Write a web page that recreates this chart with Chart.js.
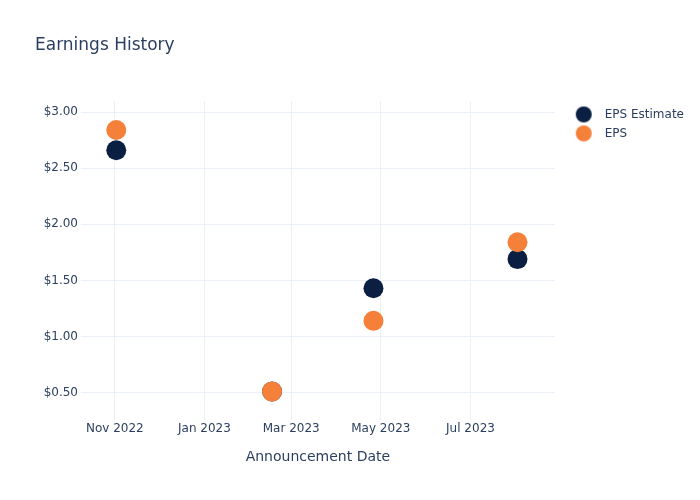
<!DOCTYPE html>
<html><head><meta charset="utf-8">
<script src="https://cdn.jsdelivr.net/npm/chart.js@4/dist/chart.umd.min.js"></script>
<style>html,body{margin:0;padding:0;background:#fff}#wrap{width:700px;height:500px}</style>
</head><body><div id="wrap"><canvas id="c" width="700" height="500"></canvas></div>
<script>
// ---- data ----
const announcementDates = ['2022-11-02', '2023-02-16', '2023-04-26', '2023-08-02'];
const epsEstimate = [2.66, 0.51, 1.43, 1.69];
const epsActual = [2.84, 0.51, 1.14, 1.84];
const seriesNames = ['EPS Estimate', 'EPS'];
const xTickDates = ['2022-11-01', '2023-01-01', '2023-03-01', '2023-05-01', '2023-07-01'];
const xTickLabels = ['Nov 2022', 'Jan 2023', 'Mar 2023', 'May 2023', 'Jul 2023'];
const yTickValues = [0.5, 1.0, 1.5, 2.0, 2.5, 3.0];
const yTickLabels = ['$0.50', '$1.00', '$1.50', '$2.00', '$2.50', '$3.00'];
const xRange = ['2022-10-09T00:00:00', '2023-08-27T08:00:00'];
const yRange = [0.258, 3.095];

// ---- style ----
const TEXT = '#2a3f5f';
const GRID = '#ebf0f8';
const C_EST = '#0b1f42';
const C_EPS = '#f5803a';

Chart.defaults.font.family = "'DejaVu Sans', sans-serif";
Chart.defaults.color = TEXT;

const toMs = d => Date.parse(d.includes('T') ? d + 'Z' : d + 'T00:00:00Z');
const xTickValues = xTickDates.map(toMs);

function swatch(color) {
  const c = document.createElement('canvas');
  c.width = 37; c.height = 18;
  const g = c.getContext('2d');
  g.fillStyle = color;
  g.beginPath(); g.arc(22, 9, 8, 0, Math.PI * 2); g.fill();
  return c;
}
const swatches = [swatch(C_EST), swatch(C_EPS)];

const chart = new Chart(document.getElementById('c'), {
  type: 'scatter',
  data: {
    datasets: [
      {
        label: seriesNames[0],
        data: announcementDates.map((d, i) => ({x: toMs(d), y: epsEstimate[i]})),
        backgroundColor: C_EST, borderColor: C_EST, borderWidth: 0,
        pointRadius: 10, pointHoverRadius: 10, order: 1
      },
      {
        label: seriesNames[1],
        data: announcementDates.map((d, i) => ({x: toMs(d), y: epsActual[i]})),
        backgroundColor: C_EPS, borderColor: C_EPS, borderWidth: 0,
        pointRadius: 10, pointHoverRadius: 10, order: 0
      }
    ]
  },
  options: {
    responsive: false,
    animation: false,
    devicePixelRatio: 1,
    layout: {padding: {left: 35, right: 6, top: 0, bottom: 29}},
    plugins: {
      tooltip: {enabled: false},
      title: {
        display: true, text: 'Earnings History', align: 'start',
        color: TEXT, font: {size: 17, weight: 'normal'},
        padding: {top: 35, bottom: 46}
      },
      legend: {
        display: true, position: 'right', align: 'start', fullSize: false,
        labels: {
          usePointStyle: true, pointStyleWidth: 37, padding: 7,
          color: TEXT, font: {size: 12},
          sort: (a, b) => a.datasetIndex - b.datasetIndex,
          generateLabels: (ch) => {
            const items = Chart.defaults.plugins.legend.labels.generateLabels(ch);
            items.forEach(it => { it.pointStyle = swatches[it.datasetIndex]; });
            return items;
          }
        }
      }
    },
    scales: {
      x: {
        type: 'linear',
        min: toMs(xRange[0]), max: toMs(xRange[1]),
        afterBuildTicks: s => { s.ticks = xTickValues.map(v => ({value: v})); },
        ticks: {
          autoSkip: false, maxRotation: 0, padding: 2, color: TEXT, font: {size: 12},
          callback: v => { const i = xTickValues.indexOf(v); return i >= 0 ? xTickLabels[i] : ''; }
        },
        grid: {color: GRID, drawTicks: false, lineWidth: 1},
        border: {display: false},
        title: {display: true, text: 'Announcement Date', color: TEXT, font: {size: 14}, padding: {top: 11, bottom: 5}}
      },
      y: {
        type: 'linear',
        min: yRange[0], max: yRange[1],
        afterBuildTicks: s => { s.ticks = yTickValues.map(v => ({value: v})); },
        afterFit: s => { s.width = 46; },
        ticks: {
          padding: 3, color: TEXT, font: {size: 12},
          callback: v => { const i = yTickValues.indexOf(v); return i >= 0 ? yTickLabels[i] : ''; }
        },
        grid: {color: GRID, drawTicks: false, lineWidth: 1},
        border: {display: false}
      }
    }
  }
});
</script></body></html>
